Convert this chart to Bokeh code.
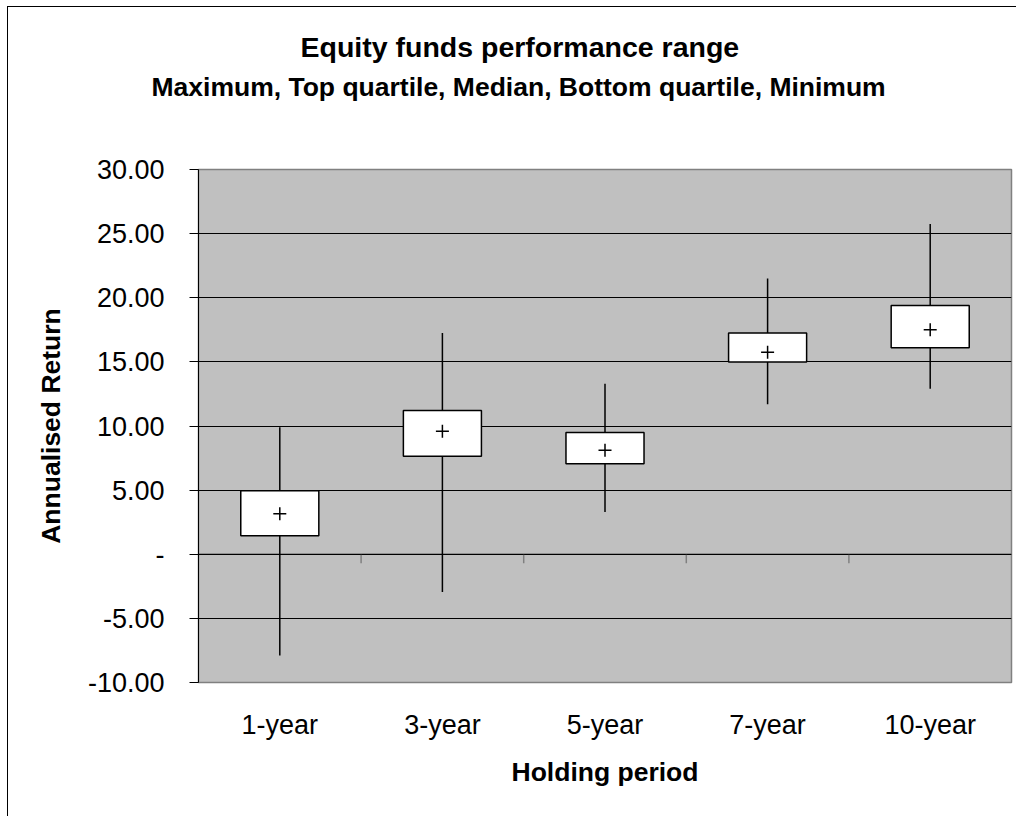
from bokeh.plotting import figure
from bokeh.models import (ColumnDataSource, FactorRange, Range1d, FixedTicker,
                          Span, Title)
from bokeh.embed import file_html
from bokeh.resources import INLINE

categories = ["1-year", "3-year", "5-year", "7-year", "10-year"]
maximum = [9.9, 17.25, 13.3, 21.5, 25.75]
top_quartile = [4.95, 11.2, 9.5, 17.25, 19.4]
median = [3.15, 9.6, 8.1, 15.75, 17.5]
bottom_quartile = [1.45, 7.65, 7.05, 15.0, 16.1]
minimum = [-7.9, -2.95, 3.3, 11.7, 12.9]

y_ticks = [-10, -5, 0, 5, 10, 15, 20, 25, 30]
y_tick_labels = ["-10.00", "-5.00", "-", "5.00", "10.00", "15.00", "20.00", "25.00", "30.00"]

title_line1 = "Equity funds performance range"
title_line2 = "Maximum, Top quartile, Median, Bottom quartile, Minimum"
x_title = "Holding period"
y_title = "Annualised Return"

FONT = "Liberation Sans"

src = ColumnDataSource(dict(cat=categories, mx=maximum, q3=top_quartile,
                            med=median, q1=bottom_quartile, mn=minimum))

p = figure(width=1016, height=816, output_backend="svg", toolbar_location=None,
           title=None,
           x_range=FactorRange(factors=categories, range_padding=0),
           y_range=Range1d(-10, 30),
           min_border_left=198, min_border_right=5, min_border_top=169, min_border_bottom=134)

p.background_fill_color = "#C0C0C0"
p.border_fill_color = None
p.outline_line_color = "#808080"
p.outline_line_width = 1.5
# outer chart border (left and top edges visible in the reference crop)
p.styles = {
    "background-color": "white",
    "background-image": ("linear-gradient(to right, transparent 7px, #000 7px, #000 8px, transparent 8px), "
                         "linear-gradient(to bottom, transparent 6px, #000 6px, #000 7px, transparent 7px)"),
    "background-position": "0px 6px, 7px 0px",
    "background-repeat": "no-repeat, no-repeat",
}

# grid
p.xgrid.grid_line_color = None
p.ygrid.ticker = FixedTicker(ticks=y_ticks)
p.ygrid.grid_line_color = "black"
p.ygrid.grid_line_width = 1

# y axis
p.yaxis.ticker = FixedTicker(ticks=y_ticks)
p.yaxis.major_label_overrides = {t: l for t, l in zip(y_ticks, y_tick_labels)}
p.yaxis.major_label_text_font = FONT
p.yaxis.major_label_text_font_size = "27px"
p.yaxis.major_label_text_color = "black"
p.yaxis.major_tick_out = 9
p.yaxis.major_tick_in = 0
p.yaxis.minor_tick_line_color = None
p.yaxis.major_tick_line_color = "black"
p.yaxis.axis_line_color = "black"
p.yaxis.major_label_standoff = 25
p.yaxis.axis_label = y_title
p.yaxis.axis_label_text_font = FONT
p.yaxis.axis_label_text_font_size = "26.5px"
p.yaxis.axis_label_text_font_style = "bold"
p.yaxis.axis_label_text_color = "black"
p.yaxis.axis_label_standoff = 19

# x axis (labels only, at bottom)
p.xaxis.axis_line_color = None
p.xaxis.major_tick_line_color = None
p.xaxis.minor_tick_line_color = None
p.xaxis.major_label_text_font = FONT
p.xaxis.major_label_text_font_size = "27px"
p.xaxis.major_label_text_color = "black"
p.xaxis.major_label_standoff = 21
p.xaxis.axis_label = x_title
p.xaxis.axis_label_text_font = FONT
p.xaxis.axis_label_text_font_size = "26.5px"
p.xaxis.axis_label_text_font_style = "bold"
p.xaxis.axis_label_text_color = "black"
p.xaxis.axis_label_standoff = 14

# category axis at zero: line and tick marks between categories
p.add_layout(Span(location=0, dimension="width", line_color="black", line_width=1))
n = len(categories)
bounds = list(range(1, n))
p.segment(x0=bounds, x1=bounds, y0=[0] * len(bounds), y1=[-0.7] * len(bounds),
          line_color="#808080", line_width=1.5)

# whiskers
p.segment(x0="cat", x1="cat", y0="mn", y1="mx", source=src, line_color="black", line_width=1.5)
# boxes
p.vbar(x="cat", top="q3", bottom="q1", width=0.48, source=src,
       fill_color="white", line_color="black", line_width=1.5)
# medians
p.scatter(x="cat", y="med", source=src, marker="cross", size=13,
          line_color="black", line_width=1.5)

# titles (a thin spacer keeps the two title lines above the plot area)
p.add_layout(Title(text=" ", text_font_size="1px", standoff=60), "above")
p.add_layout(Title(text=title_line2, align="left", offset=-47, standoff=10, text_font=FONT,
                   text_font_size="26.5px", text_font_style="bold", text_color="black"), "above")
p.add_layout(Title(text=title_line1, align="left", offset=102, standoff=3, text_font=FONT,
                   text_font_size="28.5px", text_font_style="bold", text_color="black"), "above")

open("out.html", "w").write(file_html(p, INLINE))
